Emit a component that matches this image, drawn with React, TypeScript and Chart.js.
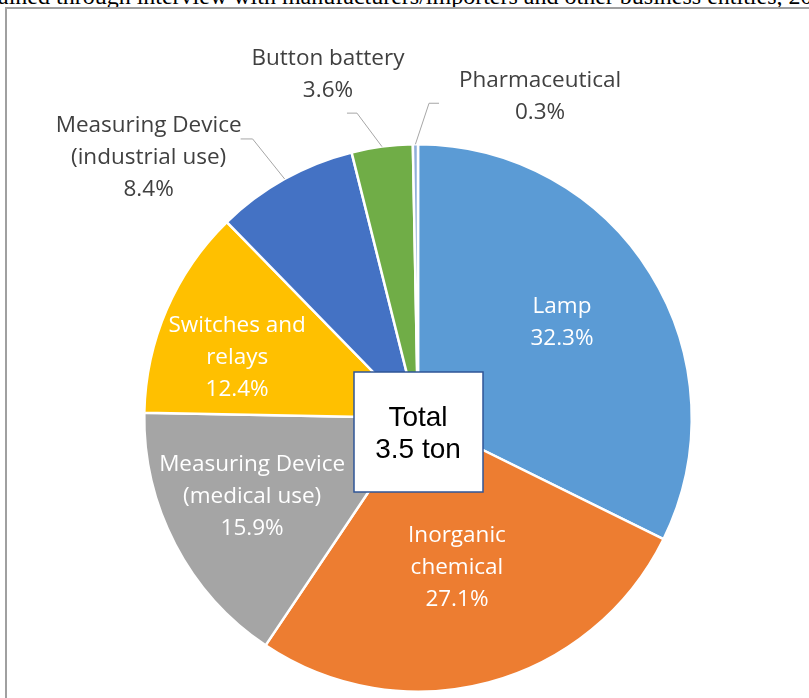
import React, { useEffect, useRef } from "react";
import { Chart, registerables } from "chart.js";

Chart.register(...registerables);

const categories = [
  "Lamp",
  "Inorganic chemical",
  "Measuring Device (medical use)",
  "Switches and relays",
  "Measuring Device (industrial use)",
  "Button battery",
  "Pharmaceutical",
];
const labelLines = [
  ["Lamp"],
  ["Inorganic", "chemical"],
  ["Measuring Device", "(medical use)"],
  ["Switches and", "relays"],
  ["Measuring Device", "(industrial use)"],
  ["Button battery"],
  ["Pharmaceutical"],
];
const shares = [32.3, 27.1, 15.9, 12.4, 8.4, 3.6, 0.3];
const sliceColors = ["#5B9BD5", "#ED7D31", "#A5A5A5", "#FFC000", "#4472C4", "#70AD47", "#8FAFD9"];
const totalLines = ["Total", "3.5 ton"];
const sourceText =
  "Obtained through interview with manufacturers/importers and other business entities, 2016";

type Lay =
  | { inside: true; r: number; dx: number; dy: number }
  | { inside: false; ex: number; ey: number; hx: number; tx: number; ty: number };

const labelLayout: Lay[] = [
  { inside: true, r: 0.63, dx: -2.5, dy: -4 },
  { inside: true, r: 0.566, dx: -1, dy: 0 },
  { inside: true, r: 0.66, dx: -5.7, dy: -4.6 },
  { inside: true, r: 0.7, dx: -5, dy: 16 },
  { inside: false, ex: -32, ey: -40, hx: -12, tx: -136, ty: -21 },
  { inside: false, ex: -25, ey: -33.5, hx: -10, tx: -54, ty: -72.5 },
  { inside: false, ex: 13.6, ey: -41, hx: 10, tx: 124.6, ty: -48 },
];

const LABEL_FONT = '22.5px "Open Sans"';
const LINE_H = 32;

const labelPlugin = {
  id: "pieLabels",
  afterDatasetsDraw(chart: any) {
    const ctx = chart.ctx as CanvasRenderingContext2D;
    const meta = chart.getDatasetMeta(0);
    ctx.save();
    ctx.font = LABEL_FONT;
    ctx.textAlign = "center";
    ctx.textBaseline = "middle";
    meta.data.forEach((arc: any, i: number) => {
      const p = arc.getProps(["x", "y", "startAngle", "endAngle", "outerRadius"], true);
      const mid = (p.startAngle + p.endAngle) / 2;
      const lay = labelLayout[i];
      const lines = [...labelLines[i], shares[i].toFixed(1) + "%"];
      let cx: number, cy: number;
      if (lay.inside) {
        cx = p.x + Math.cos(mid) * p.outerRadius * lay.r + lay.dx;
        cy = p.y + Math.sin(mid) * p.outerRadius * lay.r + lay.dy;
        ctx.fillStyle = "#FFFFFF";
      } else {
        const ex = p.x + Math.cos(mid) * p.outerRadius;
        const ey = p.y + Math.sin(mid) * p.outerRadius;
        const bx = ex + lay.ex;
        const by = ey + lay.ey;
        ctx.strokeStyle = "#A6A6A6";
        ctx.lineWidth = 1;
        ctx.beginPath();
        ctx.moveTo(ex, ey);
        ctx.lineTo(bx, by);
        ctx.lineTo(bx + lay.hx, by);
        ctx.stroke();
        cx = ex + lay.tx;
        cy = ey + lay.ty;
        ctx.fillStyle = "#404040";
      }
      const n = lines.length;
      lines.forEach((t, k) => {
        ctx.fillText(t, cx, cy + (k - (n - 1) / 2) * LINE_H);
      });
    });

    // Total box
    const a0 = meta.data[0];
    const c = a0.getProps(["x", "y"], true);
    const bx = c.x - 64;
    const by = c.y - 46;
    ctx.fillStyle = "#FFFFFF";
    ctx.fillRect(bx, by, 129, 120);
    ctx.strokeStyle = "#2F5597";
    ctx.lineWidth = 1.5;
    ctx.strokeRect(bx, by, 129, 120);
    ctx.fillStyle = "#000000";
    ctx.font = '28px "Liberation Sans", Arial, sans-serif';
    ctx.fillText(totalLines[0], c.x, c.y);
    ctx.fillText(totalLines[1], c.x, c.y + 32);
    ctx.restore();
  },
};

export default function App() {
  const ref = useRef<HTMLCanvasElement>(null);
  useEffect(() => {
    if (!ref.current) return;
    const chart = new Chart(ref.current, {
      type: "pie",
      data: {
        labels: categories,
        datasets: [
          {
            data: shares,
            backgroundColor: sliceColors,
            borderColor: "#FFFFFF",
            borderWidth: 2.5,
          },
        ],
      },
      options: {
        responsive: false,
        animation: false,
        layout: { padding: { left: 143, right: 116, top: 143, bottom: 5 } },
        plugins: {
          legend: { display: false },
          tooltip: { enabled: false },
          title: { display: false },
        },
      },
      plugins: [labelPlugin],
    });
    return () => chart.destroy();
  }, []);
  return (
    <div
      style={{
        position: "fixed",
        left: 0,
        top: 0,
        width: 809,
        height: 698,
        overflow: "hidden",
        background: "#FFFFFF",
      }}
    >
      <div
        style={{
          position: "absolute",
          left: -38,
          top: -18,
          whiteSpace: "nowrap",
          fontFamily: '"Liberation Serif", "Times New Roman", serif',
          fontSize: 24,
          lineHeight: "28px",
          color: "#000",
        }}
      >
        {sourceText}
      </div>
      <div
        style={{
          position: "absolute",
          left: 5,
          top: 7,
          width: 1000,
          height: 1000,
          border: "2px solid #A0A0A0",
        }}
      />
      <canvas
        ref={ref}
        width={809}
        height={698}
        style={{ position: "absolute", left: 0, top: 0 }}
      />
    </div>
  );
}
